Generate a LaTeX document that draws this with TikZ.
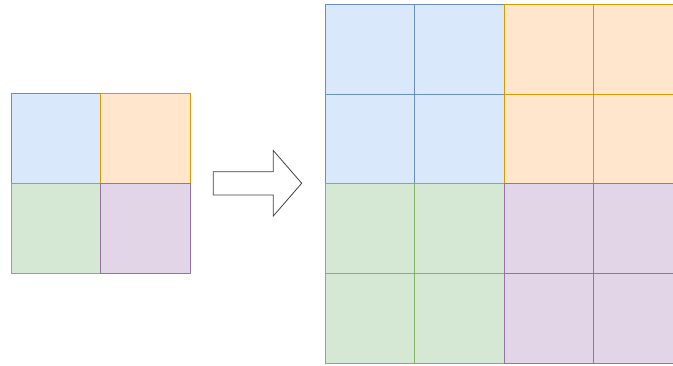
\documentclass[tikz,border=0pt]{standalone}
\definecolor{bluef}{HTML}{DAE8FC}\definecolor{bluel}{HTML}{6C8EBF}
\definecolor{orangef}{HTML}{FFE6CC}\definecolor{orangel}{HTML}{D79B00}
\definecolor{greenf}{HTML}{D5E8D4}\definecolor{greenl}{HTML}{82B366}
\definecolor{purplef}{HTML}{E1D5E7}\definecolor{purplel}{HTML}{9673A6}
\tikzset{
  cell/.style={rectangle, minimum width=89.6pt, minimum height=89.6pt, inner sep=0pt, outer sep=0pt, line width=1pt, anchor=north west},
  cblue/.style={cell, fill=bluef, draw=bluel},
  corange/.style={cell, fill=orangef, draw=orangel},
  cgreen/.style={cell, fill=greenf, draw=greenl},
  cpurple/.style={cell, fill=purplef, draw=purplel},
  bigarrow/.style={draw=black!75, fill=white, line width=0.8pt, line join=miter}
}
\begin{document}
\begin{tikzpicture}[x=1pt,y=-1pt]
\useasboundingbox (0,0) rectangle (673,366);
\clip (0,0) rectangle (673,366);
% left grid
\node[cblue]   (lA) at (11.3,94) {};
\node[corange] (lB) at (100.9,94) {};
\node[cgreen]  (lC) at (11.3,183.6) {};
\node[cpurple] (lD) at (100.9,183.6) {};
% arrow
\draw[bigarrow] (213.3,171.7) -- (273.3,171.7) -- (273.3,150.5) -- (301.7,183.3) -- (273.3,216) -- (273.3,195) -- (213.3,195) -- cycle;
% right grid
\node[cblue]   (r11) at (325,4.7) {};
\node[cblue]   (r12) at (414.6,4.7) {};
\node[cblue]   (r21) at (325,94.3) {};
\node[cblue]   (r22) at (414.6,94.3) {};
\node[corange] (r13) at (504.2,4.7) {};
\node[corange] (r14) at (593.8,4.7) {};
\node[corange] (r23) at (504.2,94.3) {};
\node[corange] (r24) at (593.8,94.3) {};
\node[cgreen]  (r31) at (325,183.9) {};
\node[cgreen]  (r32) at (414.6,183.9) {};
\node[cgreen]  (r41) at (325,273.5) {};
\node[cgreen]  (r42) at (414.6,273.5) {};
\node[cpurple] (r33) at (504.2,183.9) {};
\node[cpurple] (r34) at (593.8,183.9) {};
\node[cpurple] (r43) at (504.2,273.5) {};
\node[cpurple] (r44) at (593.8,273.5) {};
\end{tikzpicture}
\end{document}
